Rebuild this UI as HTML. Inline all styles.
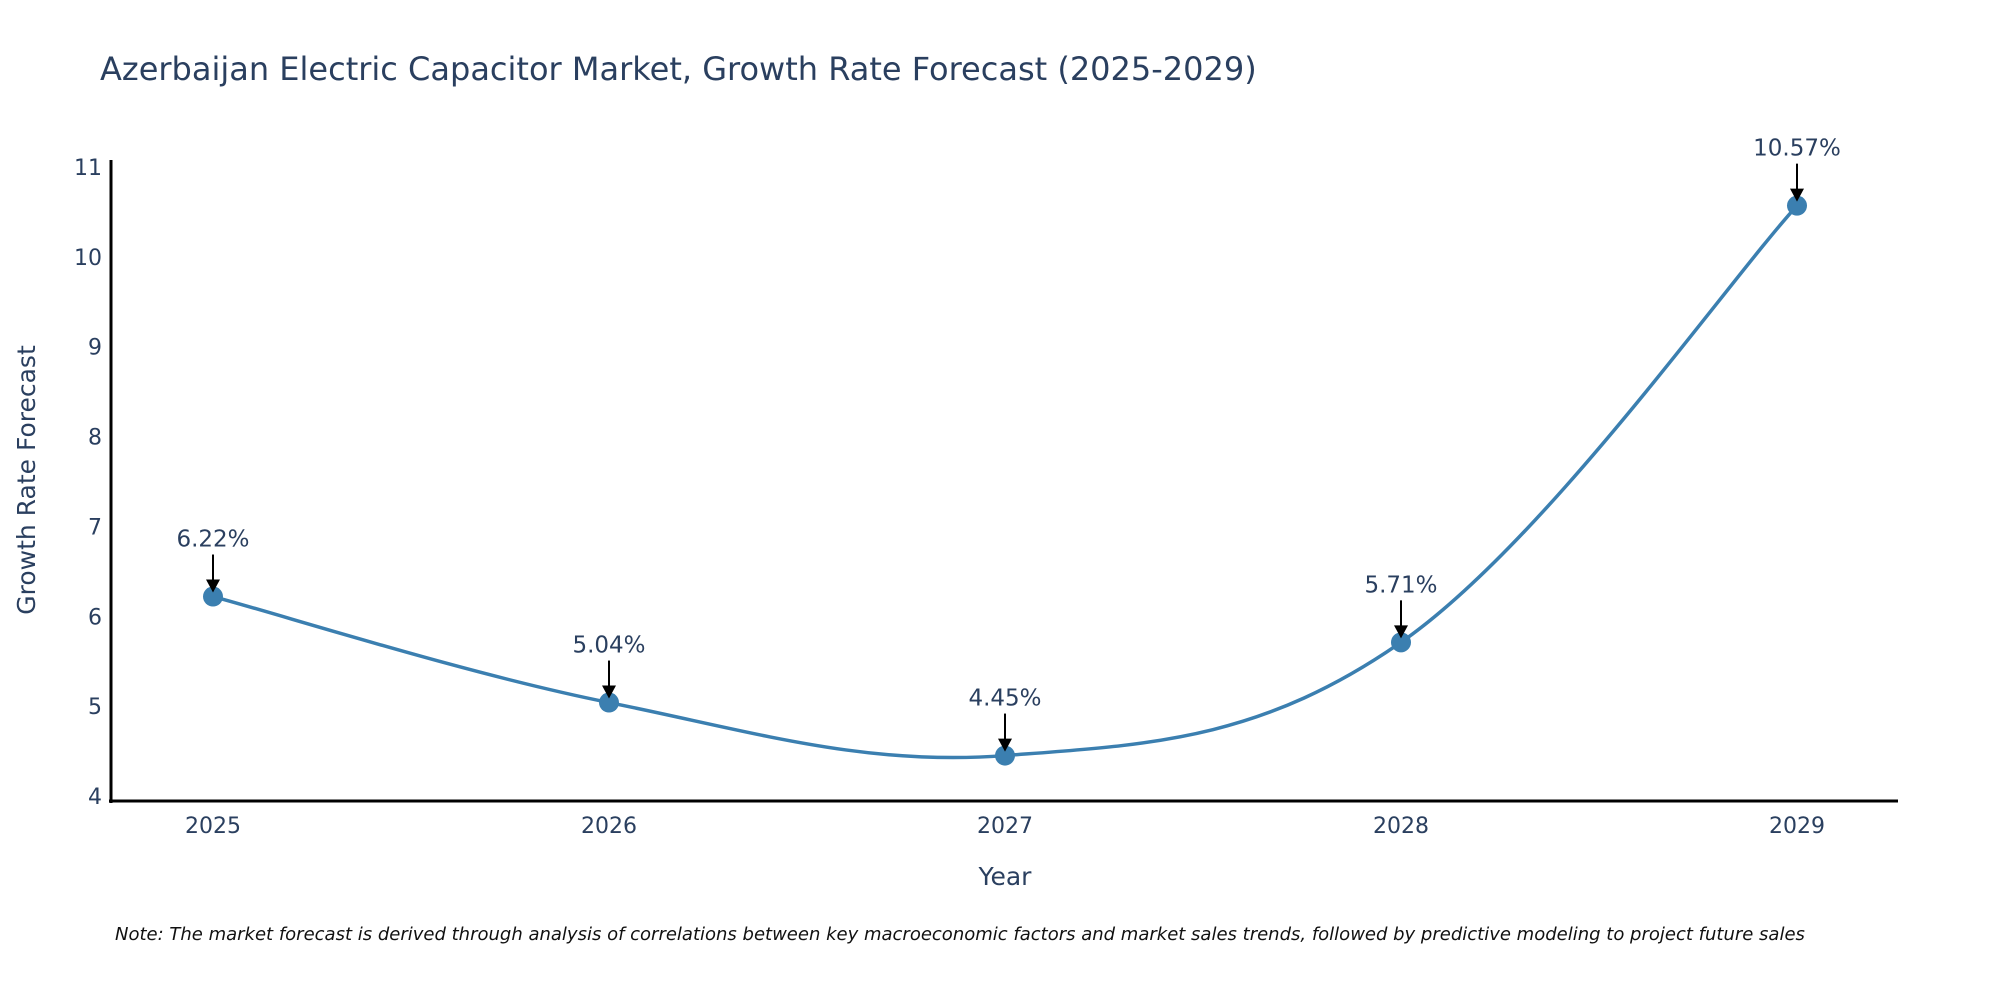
<!DOCTYPE html>
<html><head><meta charset="utf-8"><style>
html,body{margin:0;padding:0;background:#fff;}
svg{display:block;font-family:"DejaVu Sans","Liberation Sans",sans-serif;}
</style></head><body>
<svg id="chart" width="2000" height="1000" viewBox="0 0 2000 1000">
<text x="100" y="80" font-size="32" fill="#2a3f5f">Azerbaijan Electric Capacitor Market, Growth Rate Forecast (2025-2029)</text>
<g id="yticks"></g>
<g id="xticks"></g>
<line x1="111" y1="160" x2="111" y2="803" stroke="#000" stroke-width="3"/>
<line x1="109" y1="801" x2="1898" y2="801" stroke="#000" stroke-width="3"/>
<path id="line" fill="none" stroke="#3b7fb0" stroke-width="3.5"/>
<g id="points"></g>
<g id="annots"></g>
<text x="1005" y="885" font-size="25" fill="#2a3f5f" text-anchor="middle">Year</text>
<text transform="translate(35,480) rotate(-90)" font-size="25" fill="#2a3f5f" text-anchor="middle">Growth Rate Forecast</text>
<text x="115" y="940" font-size="18" font-style="italic" fill="#111">Note: The market forecast is derived through analysis of correlations between key macroeconomic factors and market sales trends, followed by predictive modeling to project future sales</text>
</svg>
<script>
const years = [2025, 2026, 2027, 2028, 2029];
const values = [6.22, 5.04, 4.45, 5.71, 10.57];
const labels = ["6.22%", "5.04%", "4.45%", "5.71%", "10.57%"];
const yTicks = [4, 5, 6, 7, 8, 9, 10, 11];

const NS = "http://www.w3.org/2000/svg";
function xs(i){ return 213 + i * 396; }
function ys(v){ return 796 - (v - 4) * (796 - 167) / 7; }
function mk(tag, attrs, parent, txt){
  const e = document.createElementNS(NS, tag);
  for (const k in attrs) e.setAttribute(k, attrs[k]);
  if (txt !== undefined) e.textContent = txt;
  parent.appendChild(e);
  return e;
}
const yt = document.getElementById('yticks');
yTicks.forEach(t => {
  const e = mk('text', {x: 102, y: ys(t) + 8, 'font-size': 22, fill: '#2a3f5f', 'text-anchor': 'end'}, yt, String(t));
  
  
});
const xt = document.getElementById('xticks');
years.forEach((y, i) => {
  const e = mk('text', {x: xs(i), y: 833, 'font-size': 22, fill: '#2a3f5f', 'text-anchor': 'middle'}, xt, String(y));
  
  
});
const P = values.map((v, i) => [xs(i), ys(v)]);
let d = `M${P[0][0]},${P[0][1]}`;
const s = 0.18;
for (let i = 0; i < P.length - 1; i++) {
  const p0 = P[Math.max(i - 1, 0)], p1 = P[i], p2 = P[i + 1], p3 = P[Math.min(i + 2, P.length - 1)];
  const c1 = [p1[0] + (p2[0] - p0[0]) * s, p1[1] + (p2[1] - p0[1]) * s];
  const c2 = [p2[0] - (p3[0] - p1[0]) * s, p2[1] - (p3[1] - p1[1]) * s];
  d += ` C${c1[0]},${c1[1]} ${c2[0]},${c2[1]} ${p2[0]},${p2[1]}`;
}
document.getElementById('line').setAttribute('d', d);
const pts = document.getElementById('points');
const an = document.getElementById('annots');
values.forEach((v, i) => {
  const c = mk('circle', {cx: xs(i), cy: ys(v), r: 10, fill: '#3b7fb0'}, pts);
  
  
  const x = xs(i), y = ys(v);
  const l = mk('line', {x1: x, y1: y - 42, x2: x, y2: y - 16, stroke: '#000', 'stroke-width': 2}, an);
  
  
  const h = mk('path', {d: `M${x-7},${y-17} L${x+7},${y-17} L${x},${y-4} Z`, fill: '#000'}, an);
  
  
  const t = mk('text', {x: x, y: y - 50, 'font-size': 23, fill: '#2a3f5f', 'text-anchor': 'middle'}, an, labels[i]);
  
  
});
</script>
</body></html>
